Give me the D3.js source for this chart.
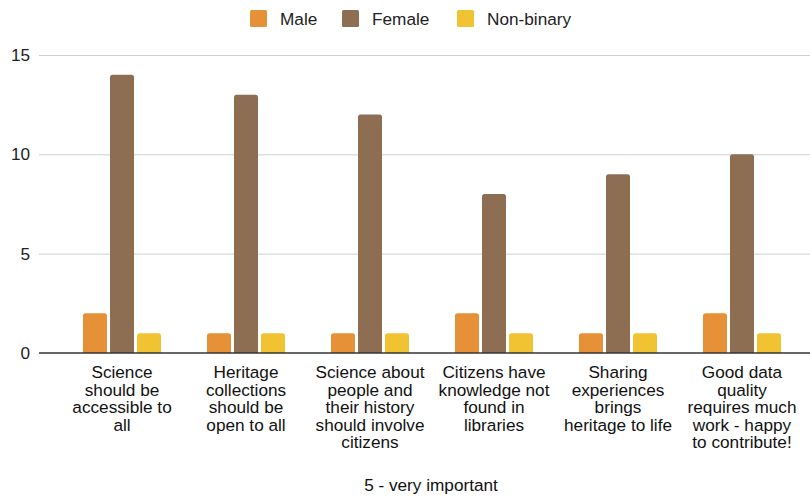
<!DOCTYPE html>
<html><head><meta charset="utf-8">
<script src="https://cdn.jsdelivr.net/npm/d3@7"></script>
<style>body{margin:0;background:#fff}svg{display:block;font-family:"Liberation Sans",Arial,sans-serif}</style>
</head><body><svg id="c" width="810" height="497"></svg>
<script>
const categories = [
  ["Science","should be","accessible to","all"],
  ["Heritage","collections","should be","open to all"],
  ["Science about","people and","their history","should involve","citizens"],
  ["Citizens have","knowledge not","found in","libraries"],
  ["Sharing","experiences","brings","heritage to life"],
  ["Good data","quality","requires much","work - happy","to contribute!"]
];
const seriesNames = ["Male","Female","Non-binary"];
const male = [2,1,1,2,1,2];
const female = [14,13,12,8,9,10];
const nonBinary = [1,1,1,1,1,1];
const yTicks = [0,5,10,15];
const axisTitle = "5 - very important";
const colors = ["#E69138","#8E6E53","#F1C232"];

const series = [male, female, nonBinary];
const svg = d3.select("#c");
const y = d3.scaleLinear().domain([0,15]).range([353,55]);
const x = d3.scaleBand().domain(d3.range(categories.length)).range([60,804]);
const barW = 24, gap = 3;
const fs = 17.2;

svg.append("g").selectAll("line").data(yTicks.filter(d=>d>0)).join("line")
  .attr("x1",39).attr("x2",810).attr("y1",d=>y(d)+0.5).attr("y2",d=>y(d)+0.5)
  .attr("stroke","#d0d0d0").attr("stroke-width",1);
svg.append("g").selectAll("text").data(yTicks).join("text")
  .attr("x",30).attr("y",d=>y(d)).attr("dy","0.35em").attr("text-anchor","end")
  .attr("font-size",fs).attr("fill","#222").text(d=>d);

function barPath(x0,y0,w,h,r){
  r=Math.min(r,h,w/2);
  return `M${x0},${y0+h}V${y0+r}Q${x0},${y0} ${x0+r},${y0}H${x0+w-r}Q${x0+w},${y0} ${x0+w},${y0+r}V${y0+h}Z`;
}
series.forEach((s,si)=>{
  svg.append("g").selectAll("path").data(s).join("path")
    .attr("fill",colors[si])
    .attr("d",(d,i)=>{
      const cx = x(i)+x.bandwidth()/2;
      const x0 = cx - barW*1.5 - gap + si*(barW+gap);
      return barPath(x0,y(d),barW,y(0)-y(d),2.5);
    });
});
svg.append("line").attr("x1",39).attr("x2",810).attr("y1",y(0)).attr("y2",y(0))
  .attr("stroke","#333").attr("stroke-width",1.3);

const lab = svg.append("g").selectAll("text").data(categories).join("text")
  .attr("text-anchor","middle").attr("font-size",fs).attr("fill","#111")
  .attr("transform",(d,i)=>`translate(${x(i)+x.bandwidth()/2},378)`);
lab.selectAll("tspan").data(d=>d).join("tspan").attr("x",0).attr("dy",(d,i)=>i?17.5:0).text(d=>d);

svg.append("text").attr("x",431).attr("y",491).attr("text-anchor","middle")
  .attr("font-size",fs).attr("fill","#111").text(axisTitle);

const legX = [250,342,457];
seriesNames.forEach((n,i)=>{
  svg.append("rect").attr("x",legX[i]).attr("y",10).attr("width",17).attr("height",17).attr("rx",1.5).attr("fill",colors[i]);
  svg.append("text").attr("x",legX[i]+30).attr("y",18.5).attr("dy","0.35em").attr("font-size",fs).attr("fill","#222").text(n);
});
</script></body></html>
